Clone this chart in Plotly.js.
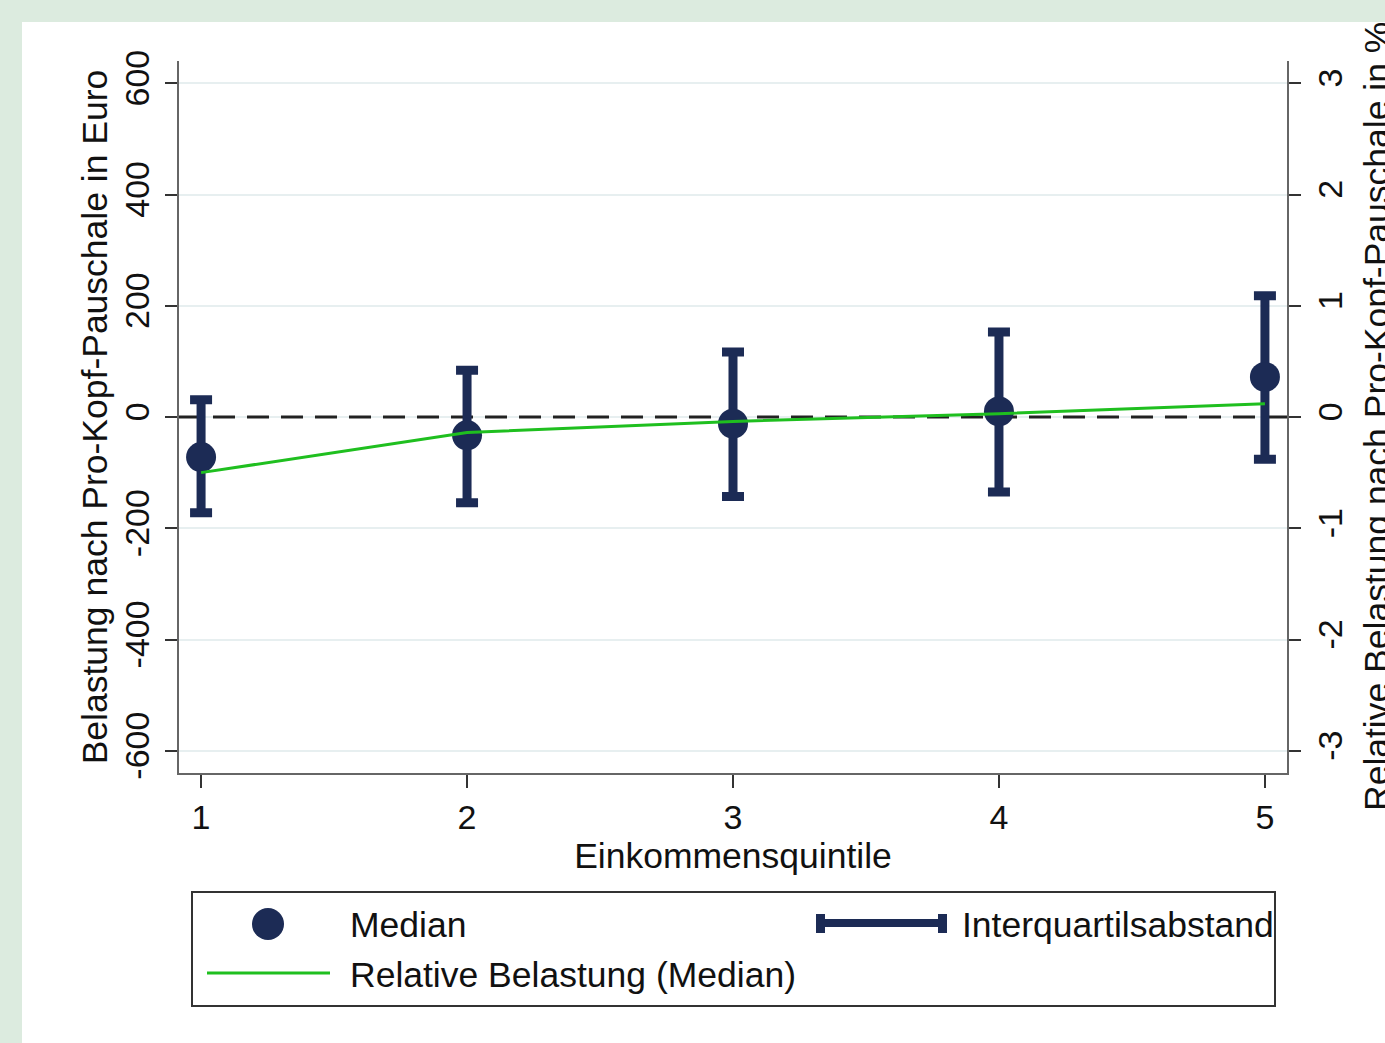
<!DOCTYPE html>
<html>
<head>
<meta charset="utf-8">
<script src="https://cdn.plot.ly/plotly-3.0.1.min.js"></script>
<style>
  html, body { margin: 0; padding: 0; background: #dcebdf; width: 1385px; height: 1043px; overflow: hidden; }
  #chart { position: absolute; left: 22px; top: 22px; width: 1363px; height: 1021px; }
</style>
</head>
<body>
<div id="chart"></div>
<script>
// ---- data ----
const quintiles = [1, 2, 3, 4, 5];
const quintileLabels = ["1", "2", "3", "4", "5"];
const medianEuro = [-72, -33, -12, 10, 72];
const q1Euro = [-172, -154, -143, -135, -76];
const q3Euro = [31, 84, 117, 153, 218];
const relMedianPct = [-0.50, -0.14, -0.04, 0.03, 0.12];
const leftTicks = [-600, -400, -200, 0, 200, 400, 600];
const rightTicks = [-3, -2, -1, 0, 1, 2, 3];
const xRange = [0.917, 5.083];
const referenceLevel = 0;

const navy = '#1c2b55';
const green = '#1fbf1f';
const font = 'Liberation Sans, Arial, sans-serif';
const fs = 34;     // tick labels
const fsT = 35.5;  // titles and legend text

const errPlus = q3Euro.map((v, i) => v - medianEuro[i]);
const errMinus = q1Euro.map((v, i) => medianEuro[i] - v);

const traces = [
  {
    // dashed reference line at zero across the plot
    x: xRange, y: [referenceLevel, referenceLevel], type: 'scatter', mode: 'lines',
    showlegend: false, hoverinfo: 'skip',
    line: { color: '#222', width: 3, dash: '22px,12px' }
  },
  {
    x: quintiles, y: medianEuro, type: 'scatter', mode: 'markers',
    name: 'Median', showlegend: false, hoverinfo: 'skip',
    marker: { color: navy, size: 30, line: { width: 0 } },
    error_y: { type: 'data', symmetric: false, array: errPlus, arrayminus: errMinus,
               color: navy, thickness: 9, width: 11 }
  },
  {
    x: quintiles, y: relMedianPct, type: 'scatter', mode: 'lines', yaxis: 'y2',
    name: 'Relative Belastung (Median)', showlegend: false, hoverinfo: 'skip',
    line: { color: green, width: 3 }
  }
];

// paper coordinate helpers for the hand-drawn legend (plot area 179..1287 x 61..773 on page)
const PX = x => (x - 179) / 1108;
const PY = y => (773 - y) / 712;

const shapes = [
  // legend box
  { type: 'rect', xref: 'paper', yref: 'paper', x0: PX(192), x1: PX(1275), y0: PY(1006), y1: PY(892),
    line: { color: '#333', width: 2 }, fillcolor: 'rgba(0,0,0,0)' },
  // Median symbol
  { type: 'circle', xref: 'paper', yref: 'paper', x0: PX(252), x1: PX(284), y0: PY(940), y1: PY(908),
    line: { width: 0 }, fillcolor: navy },
  // IQR symbol
  { type: 'line', xref: 'paper', yref: 'paper', x0: PX(818), x1: PX(945), y0: PY(923), y1: PY(923),
    line: { color: navy, width: 8 } },
  { type: 'rect', xref: 'paper', yref: 'paper', x0: PX(816), x1: PX(825), y0: PY(933), y1: PY(914),
    line: { width: 0 }, fillcolor: navy },
  { type: 'rect', xref: 'paper', yref: 'paper', x0: PX(938), x1: PX(947), y0: PY(933), y1: PY(914),
    line: { width: 0 }, fillcolor: navy },
  // relative line symbol
  { type: 'line', xref: 'paper', yref: 'paper', x0: PX(207), x1: PX(330), y0: PY(973), y1: PY(973),
    line: { color: green, width: 3 } }
];

const annotations = [
  { xref: 'paper', yref: 'paper', x: PX(348), y: PY(925), xanchor: 'left', yanchor: 'middle',
    text: 'Median', showarrow: false, font: { family: font, size: fsT, color: '#111' } },
  { xref: 'paper', yref: 'paper', x: PX(960), y: PY(925), xanchor: 'left', yanchor: 'middle',
    text: 'Interquartilsabstand', showarrow: false, font: { family: font, size: fsT, color: '#111' } },
  { xref: 'paper', yref: 'paper', x: PX(348), y: PY(975), xanchor: 'left', yanchor: 'middle',
    text: 'Relative Belastung (Median)', showarrow: false, font: { family: font, size: fsT, color: '#111' } },
  // right axis title (runs off the right edge as in the reference)
  { xref: 'paper', yref: 'paper', x: PX(1377), y: 0.5, xanchor: 'center', yanchor: 'middle',
    textangle: -90, text: 'Relative Belastung nach Pro-Kopf-Pauschale in %', showarrow: false,
    font: { family: font, size: fsT, color: '#111' } }
];

const layout = {
  width: 1363, height: 1021,
  margin: { l: 157, r: 98, t: 39, b: 270 },
  paper_bgcolor: '#ffffff', plot_bgcolor: '#ffffff',
  font: { family: font, size: fs, color: '#111' },
  showlegend: false,
  xaxis: {
    range: xRange, tickvals: quintiles, ticktext: quintileLabels,
    showgrid: false, zeroline: false, showline: true, linecolor: '#666', linewidth: 2,
    ticks: 'outside', ticklen: 13, tickwidth: 2, tickcolor: '#333',
    ticklabelstandoff: 0,
    tickfont: { family: font, size: fs, color: '#111' },
    title: { text: 'Einkommensquintile', font: { family: font, size: fsT, color: '#111' }, standoff: 0 },
    automargin: false
  },
  yaxis: {
    range: [-640, 640], tickvals: leftTicks, ticktext: leftTicks.map(String),
    tickangle: -90,
    showgrid: true, gridcolor: '#e7eff0', gridwidth: 2,
    zeroline: false, showline: true, linecolor: '#666', linewidth: 2,
    ticks: 'outside', ticklen: 12, tickwidth: 2, tickcolor: '#333',
    ticklabelstandoff: 2,
    tickfont: { family: font, size: fs, color: '#111' },
    title: { text: 'Belastung nach Pro-Kopf-Pauschale in Euro', font: { family: font, size: fsT, color: '#111' }, standoff: 0 },
    automargin: false
  },
  yaxis2: {
    overlaying: 'y', side: 'right',
    range: [-3.2, 3.2], tickvals: rightTicks, ticktext: rightTicks.map(String),
    tickangle: -90,
    showgrid: false, zeroline: false, showline: true, linecolor: '#666', linewidth: 2,
    ticks: 'outside', ticklen: 12, tickwidth: 2, tickcolor: '#333',
    ticklabelstandoff: 0,
    tickfont: { family: font, size: fs, color: '#111' },
    automargin: false
  },
  shapes: shapes,
  annotations: annotations
};

Plotly.newPlot('chart', traces, layout, { staticPlot: true, displayModeBar: false });
</script>
</body>
</html>
